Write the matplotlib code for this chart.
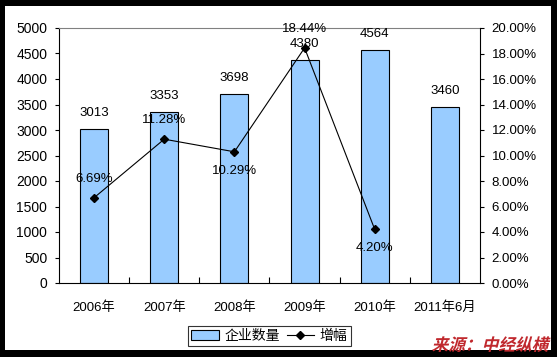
import matplotlib
matplotlib.use("Agg")
import matplotlib.pyplot as plt
from matplotlib.patches import Rectangle, PathPatch, Patch
from matplotlib.lines import Line2D
from matplotlib.textpath import TextPath
from matplotlib.font_manager import FontProperties
from matplotlib.transforms import Affine2D, IdentityTransform
import numpy as np

categories = ["2006年", "2007年", "2008年", "2009年", "2010年", "2011年6月"]
counts = [3013, 3353, 3698, 4380, 4564, 3460]
growth = [6.69, 11.28, 10.29, 18.44, 4.20]
growth_pos = ["above", "above", "below", "above", "below"]
left_ticks = list(range(0, 5001, 500))
right_ticks = [0, 2, 4, 6, 8, 10, 12, 14, 16, 18, 20]
source_text = "来源：中经纵横"

FONT = ["Liberation Sans", "Noto Sans CJK SC", "DejaVu Sans"]
plt.rcParams["font.family"] = FONT

W, H = 557, 357
fig = plt.figure(figsize=(W / 100, H / 100), dpi=100, facecolor="black")
fig.patches.append(Rectangle((5 / W, 1 - 350 / H), (551 - 5) / W, (350 - 6) / H,
                             transform=fig.transFigure, facecolor="white",
                             edgecolor="none", zorder=-10))

ax = fig.add_axes([59 / W, 1 - 283 / H, (480 - 59) / W, (283 - 28) / H])
ax.set_facecolor("none")
x = np.arange(len(categories))
ax.bar(x, counts, width=0.4, color="#99ccff", edgecolor="black", linewidth=0.8, zorder=2)
ax.set_xlim(-0.5, len(categories) - 0.5)
ax.set_ylim(0, 5000)
ax.set_yticks(left_ticks)
ax.set_yticklabels([str(t) for t in left_ticks], fontsize=10)
ax.set_xticks(x)
ax.set_xticklabels(categories, fontsize=9.5)
ax.tick_params(axis="x", length=0, pad=13)
ax.set_xticks(np.arange(0.5, len(categories) - 0.5, 1), minor=True)
ax.tick_params(axis="x", which="minor", direction="in", length=4, width=0.8)
ax.tick_params(axis="y", direction="out", length=3, width=0.8, pad=5.5)
for s in ["left", "bottom"]:
    ax.spines[s].set_linewidth(0.8)
ax.spines["top"].set_color("#808080")
ax.spines["top"].set_linewidth(0.8)
ax.spines["right"].set_visible(False)

for xi, c in zip(x, counts):
    ax.annotate(str(c), (xi, c), xytext=(0, 11.5), textcoords="offset points",
                ha="center", va="center", fontsize=9.5, zorder=3)

ax2 = ax.twinx()
ax2.set_ylim(0, 20)
ax2.set_yticks(right_ticks)
ax2.set_yticklabels(["%.2f%%" % t for t in right_ticks], fontsize=9.5)
ax2.tick_params(axis="y", direction="out", length=3, width=0.8, pad=5.5)
ax2.spines["right"].set_linewidth(0.8)
ax2.spines["top"].set_visible(False)
ax2.spines["left"].set_visible(False)
ax2.spines["bottom"].set_visible(False)
ax2.plot(x[:len(growth)], growth, color="black", linewidth=0.8, marker="D",
         markersize=4.5, zorder=5)
for xi, g, p in zip(x, growth, growth_pos):
    dy = 13.5 if p == "above" else -13.5
    ax2.annotate("%.2f%%" % g, (xi, g), xytext=(0, dy), textcoords="offset points",
                 ha="center", va="center", fontsize=9.5, zorder=4)

handles = [Patch(facecolor="#99ccff", edgecolor="black", linewidth=0.8),
           Line2D([0], [0], color="black", linewidth=0.8, marker="D", markersize=4.5)]
leg = fig.legend(handles, ["企业数量", "增幅"], loc="center",
                 bbox_to_anchor=(269.5 / W, 1 - 336 / H), ncol=2,
                 frameon=True, fancybox=False, edgecolor="black", borderpad=0.25,
                 handlelength=2.0, handletextpad=0.4, columnspacing=0.45,
                 borderaxespad=0, prop={"family": ["Noto Sans CJK SC"], "size": 10})
leg.get_frame().set_linewidth(0.8)

# italic-looking bold red source note (skewed text path, in pixel coordinates)
fp = FontProperties(family="Noto Sans CJK SC", weight="bold")
tp = TextPath((0, 0), source_text, size=12 * 100 / 72, prop=fp)
ext = tp.get_extents()
x_right, baseline = 550, 357 - 350.5
tr = Affine2D().skew_deg(14, 0).translate(x_right - ext.x1 - 2, baseline)
fig.patches.append(PathPatch(tp, transform=tr + IdentityTransform(),
                             facecolor="#c0282d", edgecolor="none", zorder=5))

fig.savefig("out.png", dpi=100, facecolor="black")
